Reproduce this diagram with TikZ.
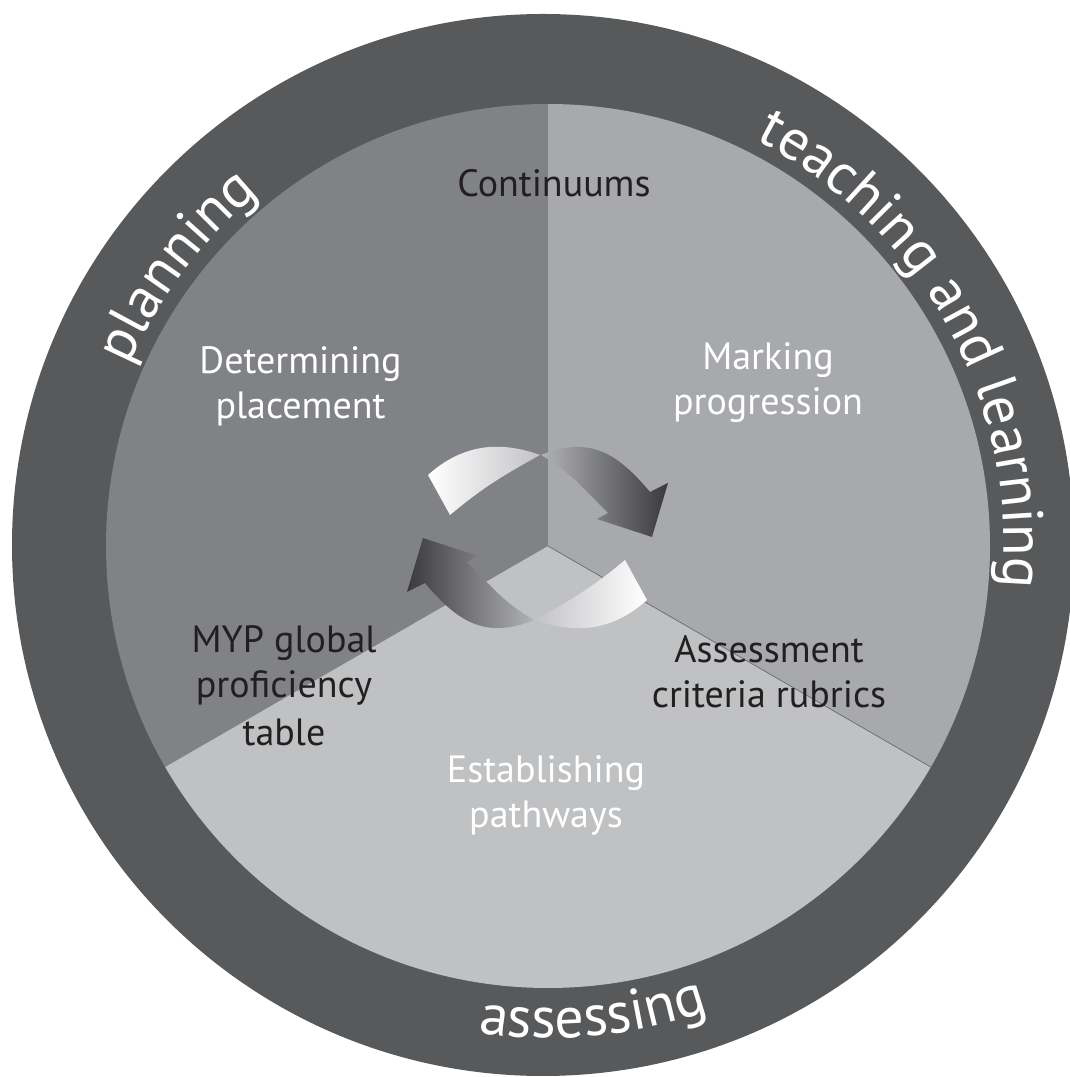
\documentclass[tikz,border=0pt]{standalone}
\usepackage{fontspec}
\setmainfont{PT Sans}
\usetikzlibrary{decorations.text}
\definecolor{ringc}{RGB}{88,89,91}
\definecolor{leftc}{RGB}{128,130,133}
\definecolor{rightc}{RGB}{167,169,172}
\definecolor{bottomc}{RGB}{192,193,195}
\definecolor{divc}{RGB}{105,106,109}
\definecolor{darktext}{RGB}{35,31,32}
\definecolor{arrlight}{RGB}{195,195,198}
\definecolor{arrmid}{RGB}{178,179,182}
\definecolor{arrdark}{RGB}{58,58,62}
\newcommand\secfont{\fontsize{38}{45}\selectfont}
\newcommand\ringfont{\fontsize{58}{58}\selectfont}
\begin{document}
\begin{tikzpicture}[x=1pt,y=1pt,
  sectext/.style={anchor=base, inner sep=0pt, font=\secfont},
  wtext/.style={sectext, text=white},
  dtext/.style={sectext, text=darktext},
  ringtext/.style={decorate, decoration={text along path, text={|\ringfont|#1}, text align=center, text color=white}}]
\useasboundingbox (0,0) rectangle (1070,1077);
\coordinate (S) at (548,531);
\coordinate (O) at (543,532);
% outer ring
\fill[ringc] (O) circle[radius=531];
% sectors
\begin{scope}
  \clip (S) circle[radius=442];
  \fill[leftc] (S) -- +(90:600) -- +(150:700) -- +(210:600) -- cycle;
  \fill[rightc] (S) -- +(90:600) -- +(30:700) -- +(-30:600) -- cycle;
  \fill[bottomc] (S) -- +(210:600) -- +(270:700) -- +(330:600) -- cycle;
\end{scope}
\coordinate (divend) at ([shift={(330:442)}]S);
\draw[divc, line width=0.7] (S) -- (divend);
% ring labels
\coordinate (pl0) at ([shift={(175:456)}]S);
\path[ringtext=planning] (pl0) arc[start angle=175, end angle=111, radius=456];
\coordinate (tl0) at ([shift={(88.85:456)}]S);
\path[ringtext=teaching and learning] (tl0) arc[start angle=88.85, end angle=-31.15, radius=456];
\coordinate (as0) at ([shift={(245.5:492)}]S);
\path[ringtext=assessing] (as0) arc[start angle=245.5, end angle=305.5, radius=492];
% cycle arrows (top)
\shade[left color=white, right color=arrlight]
  (428,602) to[out=42,in=160] (540,622) to[out=209,in=40] (450,562) -- cycle;
\shade[left color=arrmid, right color=arrdark]
  (541,622) to[out=22,in=130,looseness=1.15] (650,585) -- (668,594) -- (652,540) -- (597,558) -- (608,564) to[out=135,in=-30] (541,622) -- cycle;
% cycle arrows (bottom)
\shade[left color=arrlight, right color=white]
  (647,477) to[out=222,in=340] (535,457) to[out=29,in=220] (625,517) -- cycle;
\shade[left color=arrdark, right color=arrmid]
  (534,457) to[out=202,in=310,looseness=1.15] (425,494) -- (407,485) -- (423,539) -- (478,521) -- (467,515) to[out=315,in=150] (534,457) -- cycle;
% sector labels
\node[dtext] (cont) at (554,880) {Continuums};
\node[wtext] (det1) at (300.5,703) {Determining};
\node[wtext] (det2) at (300.5,658) {placement};
\node[wtext] (mark1) at (768,707) {Marking};
\node[wtext] (mark2) at (768,662) {progression};
\node[dtext] (myp1) at (284,424) {MYP global};
\node[dtext] (myp2) at (284,379) {proficiency};
\node[dtext] (myp3) at (284,331) {table};
\node[dtext] (ass1) at (769,414) {Assessment};
\node[dtext] (ass2) at (769,369) {criteria rubrics};
\node[wtext] (est1) at (546,294) {Establishing};
\node[wtext] (est2) at (546,249) {pathways};
\end{tikzpicture}
\end{document}
